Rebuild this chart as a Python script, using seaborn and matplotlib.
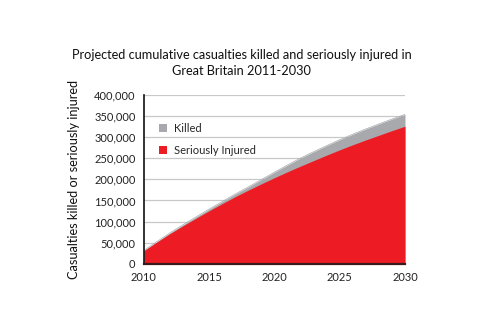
import matplotlib
matplotlib.use("Agg")
import matplotlib.pyplot as plt
from matplotlib.patches import Patch
from matplotlib.ticker import FuncFormatter
import seaborn as sns
import pandas as pd

years = list(range(2010, 2031))
seriously_injured = [31000, 51500, 71500, 90000, 108000, 125500, 142500, 159000,
                     174500, 189500, 204000, 218000, 231500, 244500, 257500,
                     270000, 282000, 293500, 304500, 315500, 326000]
killed = [500, 1000, 1800, 2500, 3200, 4000, 5000, 6200, 7500, 10000, 13000,
          16000, 19000, 21000, 22500, 24000, 25000, 26000, 26800, 27500, 28000]
series_names = ["Killed", "Seriously Injured"]
xticks = [2010, 2015, 2020, 2025, 2030]
yticks = list(range(0, 400001, 50000))

df = pd.DataFrame({"year": years, "Seriously Injured": seriously_injured,
                   "Killed": killed})
df["Total"] = df["Seriously Injured"] + df["Killed"]

sns.set_theme(style="white")
plt.rcParams["font.family"] = ["Lato", "DejaVu Sans"]

red = "#ED1C24"
grey = "#A7A9AC"

fig = plt.figure(figsize=(4.83, 3.30), dpi=100)
ax = fig.add_axes([0.298, 0.2009, 0.5405, 0.5112])

for y in yticks[1:]:
    ax.axhline(y, color="#c8c8c8", lw=0.9, zorder=0)

ax.fill_between(df["year"], 0, df["Total"], color=grey, lw=0, zorder=1)
ax.fill_between(df["year"], 0, df["Seriously Injured"], color=red, lw=0, zorder=2)
sns.lineplot(data=df, x="year", y="Total", ax=ax, color=grey, lw=0.5, zorder=1)

ax.set_xlim(2010, 2030)
ax.set_ylim(0, 400000)
ax.set_xticks(xticks)
ax.set_yticks(yticks)
ax.yaxis.set_major_formatter(FuncFormatter(lambda v, p: f"{int(v):,}"))
ax.tick_params(axis="both", length=0, labelsize=8, colors="#222222")
ax.tick_params(axis="x", pad=6)
ax.tick_params(axis="y", pad=6)

for s in ["top", "right"]:
    ax.spines[s].set_visible(False)
ax.spines["left"].set_color("#111111")
ax.spines["left"].set_linewidth(1.2)
ax.spines["bottom"].set_color("#3a1a1a")
ax.spines["bottom"].set_linewidth(1.6)

ax.set_xlabel("")
ax.set_ylabel("Casualties killed or seriously injured", fontsize=9.2,
              color="#111111", labelpad=10)

handles = [Patch(facecolor=grey, edgecolor="none"),
           Patch(facecolor=red, edgecolor="none")]
ax.legend(handles, series_names, loc="upper left",
          bbox_to_anchor=(0.02, 0.895), frameon=False, fontsize=8,
          handlelength=0.7, handleheight=0.7, handletextpad=0.6,
          labelspacing=1.0)

fig.text(0.5, 0.809, "Projected cumulative casualties killed and seriously injured in\nGreat Britain 2011-2030",
         ha="center", va="center", fontsize=9.2, color="#111111",
         linespacing=1.45)

fig.savefig("out.png", dpi=100, facecolor="white")
